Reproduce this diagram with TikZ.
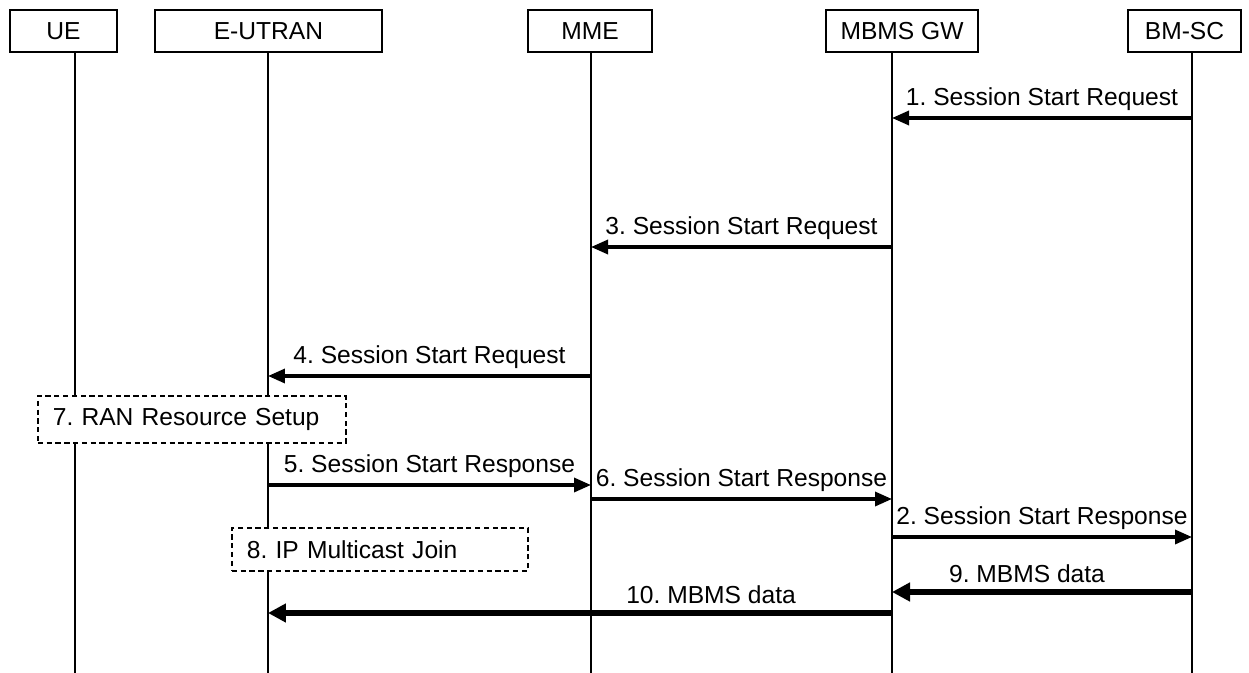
\documentclass[tikz,border=0pt]{standalone}
\usepackage{fontspec}
\setmainfont{Liberation Sans}
\usetikzlibrary{arrows.meta}
\frenchspacing

\begin{document}
\begin{tikzpicture}[x=0.02cm, y=-0.02cm,
    font=\fontsize{14pt}{16pt}\selectfont,
    entity/.style={draw, line width=0.7pt, minimum height=0.84cm, inner sep=0pt},
    lifeline/.style={line width=0.8pt},
    msg/.style={line width=1.9pt, -{Triangle[length=0.34cm,width=0.28cm]}},
    datamsg/.style={line width=3.4pt, -{Triangle[length=0.36cm,width=0.36cm]}},
    procbox/.style={draw, fill=white, line width=1pt, dash pattern=on 3pt off 2pt,
        inner xsep=0.3cm, inner ysep=0pt, align=left, anchor=west}]
    \useasboundingbox (0,0) rectangle (1249,673);

    % entities
    \node[entity, minimum width=2.14cm] (uebox) at (63.5,31) {UE};
    \node[entity, minimum width=4.54cm] (enbbox) at (268.5,31) {E-UTRAN};
    \node[entity, minimum width=2.48cm] (mmebox) at (590,31) {MME};
    \node[entity, minimum width=3.04cm] (gwbox) at (902,31) {MBMS GW};
    \node[entity, minimum width=2.26cm] (bmscbox) at (1184.5,31) {BM-SC};

    % lifelines
    \coordinate (ue) at (75,673);
    \coordinate (enb) at (268,673);
    \coordinate (mme) at (591,673);
    \coordinate (gw) at (892,673);
    \coordinate (bmsc) at (1192,673);
    \draw[lifeline] (uebox.south -| ue) -- (ue);
    \draw[lifeline] (enbbox.south -| enb) -- (enb);
    \draw[lifeline] (mmebox.south -| mme) -- (mme);
    \draw[lifeline] (gwbox.south -| gw) -- (gw);
    \draw[lifeline] (bmscbox.south -| bmsc) -- (bmsc);

    % local procedures
    \node[procbox, text width=5.56cm, minimum height=0.94cm] (ransetup) at (37,419.5) {7. RAN Resource Setup};
    \node[procbox, text width=5.32cm, minimum height=0.86cm] (ipjoin) at (231,549.5) {8. IP Multicast Join};

    % messages
    \draw[msg] (bmsc |- 0,118) -- (gw |- 0,118) node[midway, above] {1. Session Start Request};
    \draw[msg] (gw |- 0,247) -- (mme |- 0,247) node[midway, above] {3. Session Start Request};
    \draw[msg] (mme |- 0,376) -- (enb |- 0,376) node[midway, above] {4. Session Start Request};
    \draw[msg] (enb |- 0,485) -- (mme |- 0,485) node[midway, above] {5. Session Start Response};
    \draw[msg] (mme |- 0,499) -- (gw |- 0,499) node[midway, above] {6. Session Start Response};
    \draw[msg] (gw |- 0,537) -- (bmsc |- 0,537) node[midway, above] {2. Session Start Response};
    \draw[datamsg] (bmsc |- 0,592) -- (gw |- 0,592) node[pos=0.55, above] {9. MBMS data};
    \draw[datamsg] (gw |- 0,613) -- (enb |- 0,613) node[pos=0.29, above] {10. MBMS data};
\end{tikzpicture}
\end{document}
